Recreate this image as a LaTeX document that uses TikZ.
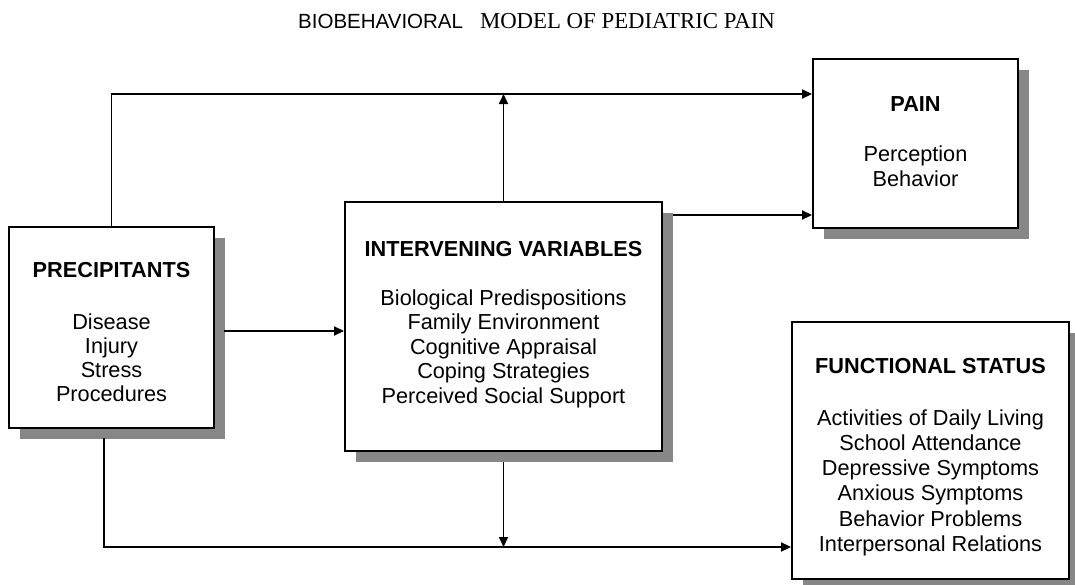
\documentclass[tikz,border=0pt]{standalone}
\usepackage{fontspec}
\setmainfont{Liberation Serif}
\setsansfont{Liberation Sans}
\usetikzlibrary{arrows.meta,shadows}
\definecolor{shadowgray}{HTML}{878787}
\tikzset{
  box/.style={draw=black, line width=1.9pt, fill=white, inner sep=0pt,
    drop shadow={shadow xshift=11pt, shadow yshift=-11pt, fill=shadowgray, opacity=1}},
  boxtext/.style={align=center, inner sep=0pt, font=\sffamily\fontsize{21.7}{24.5}\selectfont},
  arr/.style={line width=1.8pt, -{Triangle[length=10pt,width=9pt]}},
  titletext/.style={inner sep=0pt, anchor=base west}
}
\begin{document}
\begin{tikzpicture}[x=1pt,y=-1pt]
\useasboundingbox (0,0) rectangle (1075,584);
\node[titletext] (title) at (298,28) {{\sffamily\fontsize{20.5}{22}\selectfont BIOBEHAVIORAL}\hspace{17pt}{\rmfamily\fontsize{22.8}{24}\selectfont MODEL OF PEDIATRIC PAIN}};

\node[box, minimum width=205pt, minimum height=201pt] (prec) at (111.5,327.5) {};
\node[box, minimum width=317pt, minimum height=249pt] (inter) at (503.5,326.5) {};
\node[box, minimum width=205pt, minimum height=169pt] (pain) at (915.5,143.5) {};
\node[box, minimum width=277pt, minimum height=257pt] (func) at (930.5,450.5) {};

\node[boxtext, font=\sffamily\fontsize{21.7}{23.8}\selectfont] (prec-t) at (111.5,332)
  {\textbf{PRECIPITANTS}\\[28pt] Disease\\ Injury\\ Stress\\ Procedures};
\node[boxtext] (inter-t) at (503.5,324.5)
  {\textbf{INTERVENING VARIABLES}\\[24pt] Biological Predispositions\\ Family Environment\\ Cognitive Appraisal\\ Coping Strategies\\ Perceived Social Support};
\node[boxtext] (pain-t) at (915.5,141.5)
  {\textbf{PAIN}\\[26pt] Perception\\ Behavior};
\node[boxtext, font=\sffamily\fontsize{21.7}{25.2}\selectfont] (func-t) at (930.5,457)
  {\textbf{FUNCTIONAL STATUS}\\[26.8pt] Activities of Daily Living\\ School Attendance\\ Depressive Symptoms\\ Anxious Symptoms\\ Behavior Problems\\ Interpersonal Relations};

\coordinate (t1) at (111.5,94);
\coordinate (r1) at (673,215);
\coordinate (m1) at (224,331);
\coordinate (b1) at (104,438);
\coordinate (b2) at (104,547);
\coordinate (d1) at (503.5,462);

\draw[arr] (prec.north) -- (t1) -- (t1 -| pain.west);
\draw[arr] (inter.north) -- (inter.north |- t1);
\draw[arr] (r1) -- (r1 -| pain.west);
\draw[arr] (m1) -- (m1 -| inter.west);
\draw[arr] (b1) -- (b2) -- (b2 -| func.west);
\draw[arr] (d1) -- (d1 |- b2);
\end{tikzpicture}
\end{document}
